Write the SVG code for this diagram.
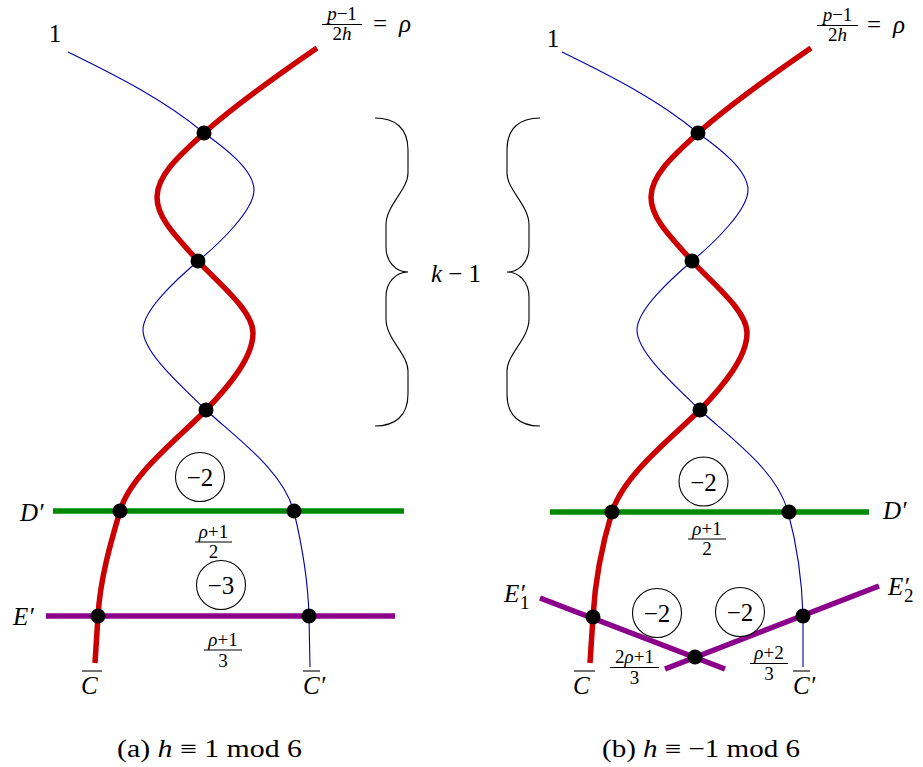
<svg xmlns="http://www.w3.org/2000/svg" width="923" height="767" viewBox="0 0 923 767">
<style>
text{font-family:"Liberation Serif","DejaVu Serif",serif;fill:#000}
.m{font-size:25px}
.s{font-size:19px}
.i{font-style:italic}
.red{fill:none;stroke:#cc0000;stroke-width:5.5;stroke-linecap:butt}
.blue{fill:none;stroke:#0000aa;stroke-width:1.1}
.green{stroke:#008800;stroke-width:5.5}
.purple{stroke:#8b008b;stroke-width:5.5}
.dot{fill:#000}
.ring{fill:#fff;stroke:#000;stroke-width:1.1}
.bar{stroke:#000;stroke-width:1.1}
.brace{fill:none;stroke:#000;stroke-width:1.1}
</style>
<g id="connectors">
  <line class="green" x1="53" y1="511" x2="404" y2="511"/>
  <line class="purple" x1="46" y1="616" x2="395" y2="616"/>
  <line class="green" x1="550" y1="512" x2="869" y2="512"/>
  <line class="purple" x1="540" y1="598" x2="725" y2="669"/>
  <line class="purple" x1="665" y1="669" x2="879" y2="586"/>
  <path class="blue" d="M68,52 C115,75 165,100 204,133 C225,148 254,170 254,190 C254,210 220,243 198,261 C176,280 143,310 143,330 C143,352 180,385 206,410 C235,437 283,470 294,512 C302,545 308,580 309,616 L310,667"/>
  <path class="red" d="M317,48 C285,70 232,108 204,133 C180,155 157,175 157,197 C157,220 180,240 198,261 C216,281 253,310 253,333 C253,357 230,385 206,410 C180,437 130,475 120,511 C110,545 100,580 98,616 L95,663"/>
  <path class="blue" d="M562,52 C609,75 659,100 698,133 C719,148 748,170 748,190 C748,210 714,243 692,261 C670,280 637,310 637,330 C637,352 674,385 700,410 C729,437 777,470 788,512 C797,545 802,580 803,616 L803,667"/>
  <path class="red" d="M811,48 C779,70 726,108 698,133 C674,155 651,175 651,197 C651,220 674,240 692,261 C710,281 747,310 747,333 C747,357 724,385 700,410 C669,440 624,475 612,512 C602,545 595,580 593,617 L590,663"/>
</g>
<g id="dots-a">
  <circle class="dot" cx="204" cy="133" r="7.5"/>
  <circle class="dot" cx="198" cy="261" r="7.5"/>
  <circle class="dot" cx="206" cy="410" r="7.5"/>
  <circle class="dot" cx="120" cy="511" r="7.5"/>
  <circle class="dot" cx="294" cy="511" r="7.5"/>
  <circle class="dot" cx="98" cy="616" r="7.5"/>
  <circle class="dot" cx="309" cy="616" r="7.5"/>
</g>
<g id="dots-b">
  <circle class="dot" cx="698" cy="133" r="7.5"/>
  <circle class="dot" cx="692" cy="261" r="7.5"/>
  <circle class="dot" cx="700" cy="410" r="7.5"/>
  <circle class="dot" cx="612" cy="512" r="7.5"/>
  <circle class="dot" cx="789" cy="512" r="7.5"/>
  <circle class="dot" cx="593" cy="617" r="7.5"/>
  <circle class="dot" cx="695" cy="657" r="7.5"/>
  <circle class="dot" cx="803" cy="616" r="7.5"/>
</g>
<g id="label-1-a"><text class="m" x="55" y="42" text-anchor="middle">1</text></g>
<g id="label-rho-a">
  <text class="s" x="342" y="20" text-anchor="middle"><tspan class="i">p</tspan>−1</text>
  <line class="bar" x1="322" y1="24.5" x2="362" y2="24.5"/>
  <text class="s" x="342" y="40" text-anchor="middle">2<tspan class="i">h</tspan></text>
  <text class="m" x="373" y="32">=</text>
  <text class="m i" x="399" y="32">ρ</text>
</g>
<g id="label-1-b"><text class="m" x="553" y="47" text-anchor="middle">1</text></g>
<g id="label-rho-b">
  <text class="s" x="837.5" y="21" text-anchor="middle"><tspan class="i">p</tspan>−1</text>
  <line class="bar" x1="817" y1="25.5" x2="858" y2="25.5"/>
  <text class="s" x="837.5" y="41" text-anchor="middle">2<tspan class="i">h</tspan></text>
  <text class="m" x="867" y="33">=</text>
  <text class="m i" x="893" y="33">ρ</text>
</g>
<g id="brace-left"><path class="brace" d="M375,118 C395,118 408,128 408,150 L408,173 C408,190 386,205 386,225 L386,247 C386,262 396,272 408,272 C396,272 386,282 386,297 L386,319 C386,339 408,354 408,371 L408,394 C408,416 395,426 375,426"/></g>
<g id="brace-right"><path class="brace" d="M540,118 C520,118 507,128 507,150 L507,173 C507,190 529,205 529,225 L529,247 C529,262 519,272 507,272 C519,272 529,282 529,297 L529,319 C529,339 507,354 507,371 L507,394 C507,416 520,426 540,426"/></g>
<g id="label-k"><text class="m" x="456" y="282" text-anchor="middle"><tspan class="i">k</tspan> − 1</text></g>
<g id="circle-a1"><circle class="ring" cx="200" cy="477" r="24.5"/><text class="m" x="200" y="486" text-anchor="middle">−2</text></g>
<g id="circle-a2"><circle class="ring" cx="221" cy="585" r="24.5"/><text class="m" x="221" y="594" text-anchor="middle">−3</text></g>
<g id="circle-b1"><circle class="ring" cx="703.5" cy="481.5" r="24.5"/><text class="m" x="703.5" y="490.5" text-anchor="middle">−2</text></g>
<g id="circle-b2"><circle class="ring" cx="657" cy="613" r="24.5"/><text class="m" x="657" y="622" text-anchor="middle">−2</text></g>
<g id="circle-b3"><circle class="ring" cx="740" cy="612" r="24.5"/><text class="m" x="740" y="621" text-anchor="middle">−2</text></g>
<g id="frac-a1">
  <text class="s" x="213.5" y="538" text-anchor="middle"><tspan class="i">ρ</tspan>+1</text>
  <line class="bar" x1="195" y1="542" x2="232" y2="542"/>
  <text class="s" x="213.5" y="558" text-anchor="middle">2</text>
</g>
<g id="frac-a2">
  <text class="s" x="223" y="646" text-anchor="middle"><tspan class="i">ρ</tspan>+1</text>
  <line class="bar" x1="204" y1="650" x2="242" y2="650"/>
  <text class="s" x="223" y="667" text-anchor="middle">3</text>
</g>
<g id="frac-b1">
  <text class="s" x="707" y="535" text-anchor="middle"><tspan class="i">ρ</tspan>+1</text>
  <line class="bar" x1="688" y1="539" x2="726" y2="539"/>
  <text class="s" x="707" y="555" text-anchor="middle">2</text>
</g>
<g id="frac-b2">
  <text class="s" x="634.5" y="663" text-anchor="middle">2<tspan class="i">ρ</tspan>+1</text>
  <line class="bar" x1="610" y1="667.5" x2="659" y2="667.5"/>
  <text class="s" x="634.5" y="684" text-anchor="middle">3</text>
</g>
<g id="frac-b3">
  <text class="s" x="769" y="659" text-anchor="middle"><tspan class="i">ρ</tspan>+2</text>
  <line class="bar" x1="750" y1="663.5" x2="788" y2="663.5"/>
  <text class="s" x="769" y="680" text-anchor="middle">3</text>
</g>
<g id="label-D-a"><text class="m i" x="20" y="521">D′</text></g>
<g id="label-E-a"><text class="m i" x="13" y="625">E′</text></g>
<g id="label-C-a"><line class="bar" x1="82" y1="671" x2="102" y2="671"/><text class="m i" x="81" y="694">C</text></g>
<g id="label-Cp-a"><line class="bar" x1="303" y1="671" x2="320" y2="671"/><text class="m i" x="303" y="694">C′</text></g>
<g id="label-D-b"><text class="m i" x="883" y="519">D′</text></g>
<g id="label-E1-b"><text class="m i" x="504" y="602">E′</text><text class="s" x="520" y="609" font-size="16">1</text></g>
<g id="label-E2-b"><text class="m i" x="888" y="595">E′</text><text class="s" x="904" y="602" font-size="16">2</text></g>
<g id="label-C-b"><line class="bar" x1="574" y1="671" x2="595" y2="671"/><text class="m i" x="573" y="694">C</text></g>
<g id="label-Cp-b"><line class="bar" x1="793" y1="671" x2="810" y2="671"/><text class="m i" x="793" y="694">C′</text></g>
<g id="caption-a"><text class="m" x="117" y="757" textLength="185" lengthAdjust="spacingAndGlyphs">(a) <tspan class="i">h</tspan> ≡ 1 mod 6</text></g>
<g id="caption-b"><text class="m" x="602" y="757" textLength="198" lengthAdjust="spacingAndGlyphs">(b) <tspan class="i">h</tspan> ≡ −1 mod 6</text></g>
</svg>
